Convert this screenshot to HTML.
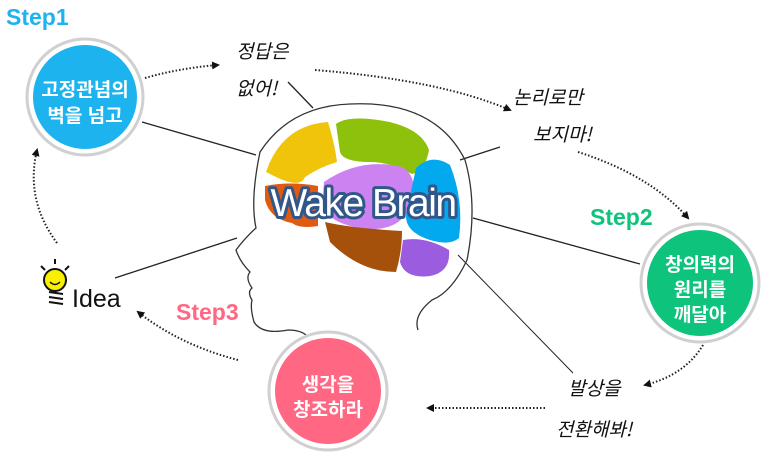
<!DOCTYPE html>
<html><head><meta charset="utf-8"><style>
body{margin:0;background:#fff;width:768px;height:464px;overflow:hidden}
svg{display:block}
.k{font-family:"Liberation Sans","Noto Sans CJK KR",sans-serif}
.h{font-family:"Noto Sans CJK KR",sans-serif;font-style:italic}
</style></head><body>
<svg width="768" height="464" viewBox="0 0 768 464" xmlns="http://www.w3.org/2000/svg">
<defs><marker id="a" markerWidth="8" markerHeight="8" refX="6" refY="4" orient="auto" markerUnits="userSpaceOnUse"><path d="M0,0 L8,4 L0,8 Z" fill="#111"/></marker></defs>
<g stroke="#222" stroke-width="1.3" fill="none">
<line x1="142" y1="122" x2="256" y2="155"/>
<line x1="115" y1="278" x2="237" y2="238"/>
<line x1="288" y1="82" x2="313" y2="108"/>
<line x1="460" y1="160" x2="500" y2="147"/>
<line x1="473" y1="218" x2="640" y2="264"/>
<line x1="458" y1="255" x2="573" y2="373" stroke-width="1"/>
</g>
<g stroke="#222" stroke-width="2" fill="none" stroke-dasharray="1.5 2" marker-end="url(#a)">
<path d="M145,78 Q180,68 218,65"/>
<path d="M315,70 Q440,80 510,110"/>
<path d="M578,152 Q650,175 688,218"/>
<path d="M703,345 Q685,375 645,385"/>
<path d="M545,408 L428,408"/>
<path d="M238,360 Q180,345 138,312"/>
<path d="M57,243 Q25,200 37,150"/>
</g>
<path d="M310,340 Q305,330 288,330 Q262,335 254,322 Q250,308 252,300 Q247,292 252,288 Q245,278 250,272 Q240,262 236,250 Q245,238 256,228 Q250,200 260,152 Q290,106 350,104 Q435,100 465,160 Q478,205 467,260 Q452,292 432,300 Q413,315 418,330" fill="none" stroke="#333" stroke-width="1.3"/>
<path d="M266,172 Q282,125 328,122 Q335,145 337,162 Q320,167 305,177 Q300,190 270,174 Z" fill="#f0c40a"/>
<path d="M336,124 Q345,117 370,119 Q420,124 429,150 Q425,172 412,174 Q390,162 370,162 Q343,162 340,152 Z" fill="#8dc10b"/>
<path d="M324,182 Q360,157 402,167 Q420,177 410,207 Q400,230 370,229 Q330,226 322,205 Z" fill="#cc82f0"/>
<path d="M265,186 Q290,181 318,186 L318,226 Q300,229 292,223 Q270,219 265,200 Z" fill="#e05a10"/>
<path d="M416,168 Q432,153 450,165 Q464,200 459,238 Q450,246 430,240 Q405,232 406,215 Z" fill="#03a9ee"/>
<path d="M325,222 Q350,228 402,231 Q402,252 396,272 Q360,272 330,242 Z" fill="#a5510c"/>
<path d="M403,240 Q425,236 449,250 Q451,272 430,276 Q405,279 400,262 Z" fill="#9c5ce0"/>
<text x="363" y="216" text-anchor="middle" class="k" font-size="39" fill="#fff" stroke="#31578a" stroke-width="6" paint-order="stroke" stroke-linejoin="round" letter-spacing="-1.5">Wake Brain</text>
<circle cx="85" cy="97" r="58" fill="#fff" stroke="#d0d0d0" stroke-width="3"/>
<circle cx="85" cy="97" r="52" fill="#1cb3ee"/>
<circle cx="700" cy="283" r="59" fill="#fff" stroke="#d0d0d0" stroke-width="3"/>
<circle cx="700" cy="283" r="53" fill="#0ec37b"/>
<circle cx="328" cy="391" r="59" fill="#fff" stroke="#d0d0d0" stroke-width="3"/>
<circle cx="328" cy="391" r="53" fill="#ff6783"/>
<g class="k" fill="#fff" font-size="19" font-weight="bold" text-anchor="middle">
<text x="85" y="96">고정관념의</text><text x="85" y="122">벽을 넘고</text>
<text x="700" y="271">창의력의</text><text x="700" y="296">원리를</text><text x="700" y="321">깨달아</text>
<text x="328" y="391">생각을</text><text x="328" y="416">창조하라</text>
</g>
<g class="k" font-size="23" font-weight="bold">
<text x="6" y="25" fill="#1cb3ee">Step1</text>
<text x="590" y="225" fill="#0ec37b">Step2</text>
<text x="176" y="320" fill="#ff6783">Step3</text>
</g>
<g class="h" font-size="19" fill="#111">
<text x="236" y="58">정답은</text><text x="236" y="95">없어!</text>
<text x="513" y="104">논리로만</text><text x="533" y="141">보지마!</text>
<text x="568" y="395">발상을</text><text x="556" y="436">전환해봐!</text>
</g>
<text x="72" y="307" class="k" font-size="25" fill="#111">Idea</text>
<circle cx="55" cy="280" r="11" fill="#f8f000" stroke="#111" stroke-width="2"/>
<path d="M50,282 Q55,287 60,282" stroke="#111" stroke-width="1.5" fill="none"/>
<path d="M49,292 L63,294 M49,297 L63,299 M49,302 L63,304" stroke="#111" stroke-width="2"/>
<path d="M41,266 L45,270 M55,259 L55,264 M69,266 L65,270" stroke="#111" stroke-width="2"/>
</svg>
</body></html>
